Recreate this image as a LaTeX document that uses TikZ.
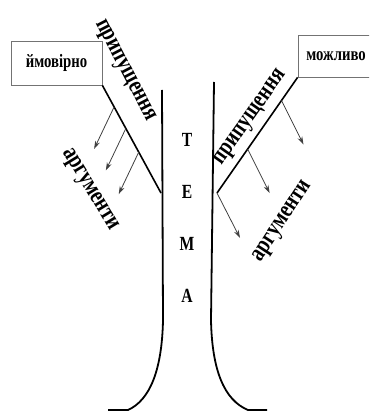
\documentclass[tikz,border=0pt]{standalone}
\usepackage{fontspec}
\setmainfont{Liberation Serif}
\usepackage{tikz}
\usetikzlibrary{calc,arrows.meta}

% text a little taller than wide, as in the drawing
\newcommand{\tallword}[1]{\scalebox{0.92}[1.18]{#1}}

\begin{document}
\begin{tikzpicture}[x=1pt, y=-1pt,
    box/.style = {draw=black!55, line width=0.8pt, inner sep=0pt,
                  font=\fontsize{16}{18}\bfseries\selectfont},
    branch/.style = {line width=1.6pt},
    trunk/.style = {line width=1.8pt},
    arg/.style = {draw=black!75, line width=0.8pt, -{Stealth[length=8pt,width=5pt]}},
    word/.style = {inner sep=0pt, font=\fontsize{21}{22}\bfseries\selectfont},
    letter/.style = {inner sep=0pt, font=\fontsize{17}{20}\bfseries\selectfont}]
    \clip (0,0) rectangle (369,414);

    % the two boxes
    \node[box, minimum width=91pt, minimum height=44pt] (ymovirno) at (56.5,63) {\tallword{ймовірно}};
    \node[box, minimum width=76pt, minimum height=42pt] (mozhlyvo) at (336,56) {\tallword{можливо}};

    % trunk of the tree
    \coordinate (ltop) at (162,90);
    \coordinate (rtop) at (214,82);
    \coordinate (ljoin) at (161,193);
    \coordinate (rjoin) at (217,193);
    \draw[trunk] (ltop) -- (163,320) .. controls (162,370) and (150,400) .. (128,410) -- (108,410);
    \draw[trunk] (rtop) -- (211,320) .. controls (212,370) and (224,400) .. (248,410) -- (267,410);

    % left branch with its arrows
    \draw[branch] (ymovirno.south east) -- (ljoin);
    \foreach \t in {0.2,0.4,0.62}
      \draw[arg] ($(ymovirno.south east)!\t!(ljoin)$) -- ++(-20,42);

    % right branch with its arrows
    \draw[branch] (mozhlyvo.south west) -- (rjoin);
    \foreach \t in {0.2,0.62}
      \draw[arg] ($(mozhlyvo.south west)!\t!(rjoin)$) -- ++(22,44);
    \draw[arg] (rjoin) -- ++(23,45) coordinate (rtip);

    % labels along the branches
    \node[word, rotate=-62.6] (lprypush) at (124,71) {\tallword{припущення}};
    \node[word, rotate=-58.8] (largum) at (89,190) {\tallword{аргументи}};
    \node[word, rotate=54.8] (rprypush) at (251,118) {\tallword{припущення}};
    \node[word, rotate=56.8] (rargum) at (283,222) {\tallword{аргументи}};

    % the word inside the trunk
    \foreach \l [count=\i] in {Т,Е,М,А}
      \node[letter] (tema\i) at (187,88+52*\i) {\tallword{\l}};
\end{tikzpicture}
\end{document}
